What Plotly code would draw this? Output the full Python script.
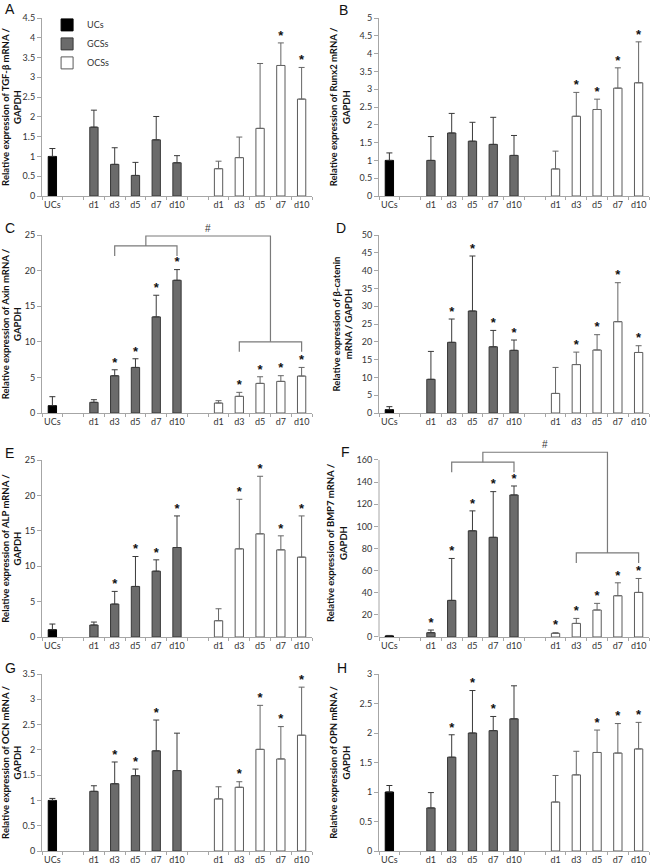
import plotly.graph_objects as go

# ---------------- data ----------------
tick_labels = ["UCs", "d1", "d3", "d5", "d7", "d10", "d1", "d3", "d5", "d7", "d10"]
group_names = ["UCs", "GCSs", "OCSs"]
panel_letters = ["A", "B", "C", "D", "E", "F", "G", "H"]

# A  TGF-beta
tgfb_ucs = [1.0];  tgfb_ucs_err = [0.20]
tgfb_gcs = [1.74, 0.80, 0.52, 1.42, 0.84]; tgfb_gcs_err = [0.43, 0.42, 0.33, 0.59, 0.18]
tgfb_ocs = [0.69, 0.97, 1.71, 3.30, 2.45]; tgfb_ocs_err = [0.19, 0.52, 1.64, 0.57, 0.80]
tgfb_sig_gcs = [0, 0, 0, 0, 0]; tgfb_sig_ocs = [0, 0, 0, 1, 1]

# B  Runx2
runx2_ucs = [1.0];  runx2_ucs_err = [0.21]
runx2_gcs = [1.00, 1.77, 1.54, 1.45, 1.14]; runx2_gcs_err = [0.67, 0.55, 0.53, 0.76, 0.56]
runx2_ocs = [0.76, 2.24, 2.43, 3.03, 3.18]; runx2_ocs_err = [0.50, 0.67, 0.29, 0.57, 1.15]
runx2_sig_gcs = [0, 0, 0, 0, 0]; runx2_sig_ocs = [0, 1, 1, 1, 1]

# C  Axin
axin_ucs = [1.03];  axin_ucs_err = [1.26]
axin_gcs = [1.50, 5.23, 6.40, 13.50, 18.64]; axin_gcs_err = [0.37, 0.84, 1.22, 3.04, 1.50]
axin_ocs = [1.40, 2.34, 4.16, 4.44, 5.19]; axin_ocs_err = [0.33, 0.56, 0.93, 0.80, 1.21]
axin_sig_gcs = [0, 1, 1, 1, 1]; axin_sig_ocs = [0, 1, 1, 1, 1]
axin_bracket = dict(top=24.86, left=23.46, left_low=22.06, right=10.0, right_low=8.6)

# D  beta-catenin
bcat_ucs = [0.94];  bcat_ucs_err = [0.84]
bcat_gcs = [9.46, 19.85, 28.65, 18.60, 17.60]; bcat_gcs_err = [7.84, 6.55, 15.45, 4.60, 2.90]
bcat_ocs = [5.50, 13.60, 17.70, 25.65, 17.00]; bcat_ocs_err = [7.30, 3.50, 4.30, 10.95, 1.90]
bcat_sig_gcs = [0, 1, 1, 1, 1]; bcat_sig_ocs = [0, 1, 1, 1, 1]

# E  ALP
alp_ucs = [1.03];  alp_ucs_err = [0.80]
alp_gcs = [1.69, 4.65, 7.14, 9.30, 12.64]; alp_gcs_err = [0.42, 1.79, 4.23, 1.60, 4.46]
alp_ocs = [2.30, 12.45, 14.57, 12.31, 11.28]; alp_ocs_err = [1.69, 7.00, 8.13, 1.98, 5.82]
alp_sig_gcs = [0, 1, 1, 1, 1]; alp_sig_ocs = [0, 1, 1, 1, 1]

# F  BMP7
bmp7_ucs = [1.0];  bmp7_ucs_err = [0.4]
bmp7_gcs = [3.9, 33.1, 96.0, 90.1, 128.4]; bmp7_gcs_err = [2.4, 37.9, 18.0, 41.3, 8.1]
bmp7_ocs = [3.3, 12.3, 24.4, 37.3, 40.3]; bmp7_ocs_err = [0.6, 4.5, 6.0, 11.7, 12.6]
bmp7_sig_gcs = [1, 1, 1, 1, 1]; bmp7_sig_ocs = [1, 1, 1, 1, 1]
bmp7_bracket = dict(top=167.0, left=158.0, left_low=149.0, right=76.0, right_low=67.0)

# G  OCN
ocn_ucs = [1.0];  ocn_ucs_err = [0.04]
ocn_gcs = [1.18, 1.33, 1.49, 1.98, 1.59]; ocn_gcs_err = [0.11, 0.43, 0.13, 0.61, 0.74]
ocn_ocs = [1.03, 1.26, 2.01, 1.82, 2.29]; ocn_ocs_err = [0.24, 0.11, 0.87, 0.64, 0.95]
ocn_sig_gcs = [0, 1, 1, 1, 0]; ocn_sig_ocs = [0, 1, 1, 1, 1]

# H  OPN
opn_ucs = [1.0];  opn_ucs_err = [0.11]
opn_gcs = [0.73, 1.59, 2.00, 2.04, 2.24]; opn_gcs_err = [0.26, 0.38, 0.72, 0.24, 0.56]
opn_ocs = [0.83, 1.29, 1.67, 1.66, 1.73]; opn_ocs_err = [0.45, 0.40, 0.38, 0.50, 0.45]
opn_sig_gcs = [0, 1, 1, 1, 0]; opn_sig_ocs = [0, 0, 1, 1, 1]

y_titles = [
    "Relative expression of TGF-β mRNA /<br>GAPDH",
    "Relative expression of Runx2 mRNA /<br>GAPDH",
    "Relative expression of Axin mRNA /<br>GAPDH",
    "Relative expression of β-catenin<br>mRNA / GAPDH",
    "Relative expression of ALP mRNA /<br>GAPDH",
    "Relative expression of BMP7 mRNA /<br>GAPDH",
    "Relative expression of OCN mRNA /<br>GAPDH",
    "Relative expression of OPN mRNA /<br>GAPDH",
]
y_max = [4.5, 5, 25, 50, 25, 160, 3.5, 3]
y_step = [0.5, 0.5, 5, 5, 5, 20, 0.5, 0.5]

panels = [
    (tgfb_ucs, tgfb_ucs_err, tgfb_gcs, tgfb_gcs_err, tgfb_ocs, tgfb_ocs_err, tgfb_sig_gcs, tgfb_sig_ocs, None),
    (runx2_ucs, runx2_ucs_err, runx2_gcs, runx2_gcs_err, runx2_ocs, runx2_ocs_err, runx2_sig_gcs, runx2_sig_ocs, None),
    (axin_ucs, axin_ucs_err, axin_gcs, axin_gcs_err, axin_ocs, axin_ocs_err, axin_sig_gcs, axin_sig_ocs, axin_bracket),
    (bcat_ucs, bcat_ucs_err, bcat_gcs, bcat_gcs_err, bcat_ocs, bcat_ocs_err, bcat_sig_gcs, bcat_sig_ocs, None),
    (alp_ucs, alp_ucs_err, alp_gcs, alp_gcs_err, alp_ocs, alp_ocs_err, alp_sig_gcs, alp_sig_ocs, None),
    (bmp7_ucs, bmp7_ucs_err, bmp7_gcs, bmp7_gcs_err, bmp7_ocs, bmp7_ocs_err, bmp7_sig_gcs, bmp7_sig_ocs, bmp7_bracket),
    (ocn_ucs, ocn_ucs_err, ocn_gcs, ocn_gcs_err, ocn_ocs, ocn_ocs_err, ocn_sig_gcs, ocn_sig_ocs, None),
    (opn_ucs, opn_ucs_err, opn_gcs, opn_gcs_err, opn_ocs, opn_ocs_err, opn_sig_gcs, opn_sig_ocs, None),
]

# ---------------- layout helpers ----------------
W, H = 654, 867
x_ucs = [0]
x_gcs = [2, 3, 4, 5, 6]
x_ocs = [8, 9, 10, 11, 12]
tickvals = x_ucs + x_gcs + x_ocs

col_px = [(42, 312), (379, 649)]
row_px = [(18, 196), (235, 413), (460, 637), (674, 851)]
letter_pos = [(3, 9), (337, 10), (3, 228), (334, 228), (3, 453), (339, 452), (3, 668), (335, 668)]

AX_COL = "#a6a6a6"
TXT_COL = "#333333"
FONT = "Lato, 'Liberation Sans', sans-serif"

fig = go.Figure()
layout = dict(
    width=W, height=H, margin=dict(l=0, r=0, t=0, b=0), autosize=False,
    paper_bgcolor="white", plot_bgcolor="white", barmode="overlay",
    font=dict(family=FONT, size=9, color=TXT_COL),
    showlegend=True,
    legend=dict(x=0.072, y=0.988, xanchor="left", yanchor="top", bgcolor="rgba(0,0,0,0)",
                font=dict(family=FONT, size=9, color=TXT_COL), itemwidth=30, tracegroupgap=0),
)
shapes, annotations = [], []

styles = {
    "UCs": dict(fill="#000000", line="#000000", err="#333333"),
    "GCSs": dict(fill="#6b6b6b", line="#383838", err="#3a3a3a"),
    "OCSs": dict(fill="#ffffff", line="#5a5a5a", err="#666666"),
}

for i, (ucs, ucs_e, gcs, gcs_e, ocs, ocs_e, sig_g, sig_o, bracket) in enumerate(panels):
    n = i + 1
    xa = "x" if n == 1 else f"x{n}"
    ya = "y" if n == 1 else f"y{n}"
    row, col = divmod(i, 2)
    cx0, cx1 = col_px[col]
    ry0, ry1 = row_px[row]
    top_val = y_max[i]
    rng_top = top_val
    if bracket is not None and bracket["top"] > top_val:
        rng_top = 170
        # extend domain so that y_max stays at the same pixel
        ry0 = ry1 - (ry1 - ry0) * rng_top / top_val

    for name, xs, ys, es in (("UCs", x_ucs, ucs, ucs_e), ("GCSs", x_gcs, gcs, gcs_e), ("OCSs", x_ocs, ocs, ocs_e)):
        st = styles[name]
        fig.add_trace(go.Bar(
            x=xs, y=ys, width=0.4, name=name, showlegend=(n == 1),
            marker=dict(color=st["fill"], line=dict(color=st["line"], width=1)),
            error_y=dict(type="data", symmetric=False, array=es, arrayminus=[0] * len(es),
                         color=st["err"], thickness=1, width=3),
            xaxis=xa, yaxis=ya, hoverinfo="skip",
        ))

    # significance asterisks
    sx, sy = [], []
    for xs, ys, es, sg in ((x_gcs, gcs, gcs_e, sig_g), (x_ocs, ocs, ocs_e, sig_o)):
        for xv, yv, ev, s in zip(xs, ys, es, sg):
            if s:
                sx.append(xv)
                sy.append(yv + ev)
    if sx:
        fig.add_trace(go.Scatter(
            x=sx, y=sy, mode="text", text=["*"] * len(sx), textposition="top center",
            textfont=dict(family="'Liberation Sans', sans-serif", size=13, color="#111111", weight="bold"),
            showlegend=False, hoverinfo="skip", cliponaxis=False, xaxis=xa, yaxis=ya,
        ))

    # comparison bracket
    if bracket is not None:
        lx0, lx1 = x_gcs[1], x_gcs[-1]
        rx0, rx1 = x_ocs[1], x_ocs[-1]
        lm, rm = (lx0 + lx1) / 2, (rx0 + rx1) / 2
        bl = dict(color="#7a7a7a", width=1.2)
        fig.add_trace(go.Scatter(x=[lx0, lx0, lx1, lx1],
                                 y=[bracket["left_low"], bracket["left"], bracket["left"], bracket["left_low"]],
                                 mode="lines", line=bl, showlegend=False, hoverinfo="skip", xaxis=xa, yaxis=ya))
        fig.add_trace(go.Scatter(x=[rx0, rx0, rx1, rx1],
                                 y=[bracket["right_low"], bracket["right"], bracket["right"], bracket["right_low"]],
                                 mode="lines", line=bl, showlegend=False, hoverinfo="skip", xaxis=xa, yaxis=ya))
        fig.add_trace(go.Scatter(x=[lm, lm, rm, rm],
                                 y=[bracket["left"], bracket["top"], bracket["top"], bracket["right"]],
                                 mode="lines", line=bl, showlegend=False, hoverinfo="skip", xaxis=xa, yaxis=ya))
        annotations.append(dict(x=(lm + rm) / 2, y=bracket["top"], xref=xa, yref=ya, text="#",
                                showarrow=False, yanchor="bottom", yshift=0,
                                font=dict(family="'Liberation Sans', sans-serif", size=10, color="#333333")))

    show_line = rng_top == top_val
    ticks_y = [round(k * y_step[i], 6) for k in range(int(round(top_val / y_step[i])) + 1)]
    layout["xaxis" if n == 1 else f"xaxis{n}"] = dict(
        domain=[cx0 / W, cx1 / W], anchor=ya, range=[-0.5, 12.5],
        tickmode="array", tickvals=tickvals, ticktext=tick_labels, ticks="",
        tickfont=dict(family=FONT, size=9, color=TXT_COL),
        showline=True, linecolor=AX_COL, linewidth=1, showgrid=False, zeroline=False,
        minor=dict(ticks="outside", tick0=-0.5, dtick=1, ticklen=3, tickcolor=AX_COL, showgrid=False),
        fixedrange=True, automargin=False,
    )
    layout["yaxis" if n == 1 else f"yaxis{n}"] = dict(
        domain=[1 - ry1 / H, 1 - ry0 / H], anchor=xa, range=[0, rng_top],
        tickmode="array", tickvals=ticks_y, ticks="outside", ticklen=4, tickcolor=AX_COL,
        tickfont=dict(family=FONT, size=9, color=TXT_COL),
        showline=show_line, linecolor=AX_COL, linewidth=1, showgrid=False, zeroline=False,
        title=dict(text=y_titles[i], standoff=7,
                   font=dict(family=FONT, size=9.5, color="#111111", weight="bold")),
        fixedrange=True, automargin=False,
    )
    if not show_line:
        shapes.append(dict(type="line", xref=f"{xa} domain", x0=0, x1=0, yref=ya, y0=0, y1=top_val,
                           line=dict(color=AX_COL, width=1)))

    lx, ly = letter_pos[i]
    annotations.append(dict(x=lx / W, y=1 - ly / H, xref="paper", yref="paper", text=panel_letters[i],
                            showarrow=False, xanchor="left", yanchor="middle",
                            font=dict(family="'Liberation Sans', sans-serif", size=14, color="#111111")))

layout["shapes"] = shapes
layout["annotations"] = annotations
fig.update_layout(**layout)
fig.write_html("out.html", config={"displayModeBar": False},
               post_script="document.body.style.margin='0';document.body.style.padding='0';")
